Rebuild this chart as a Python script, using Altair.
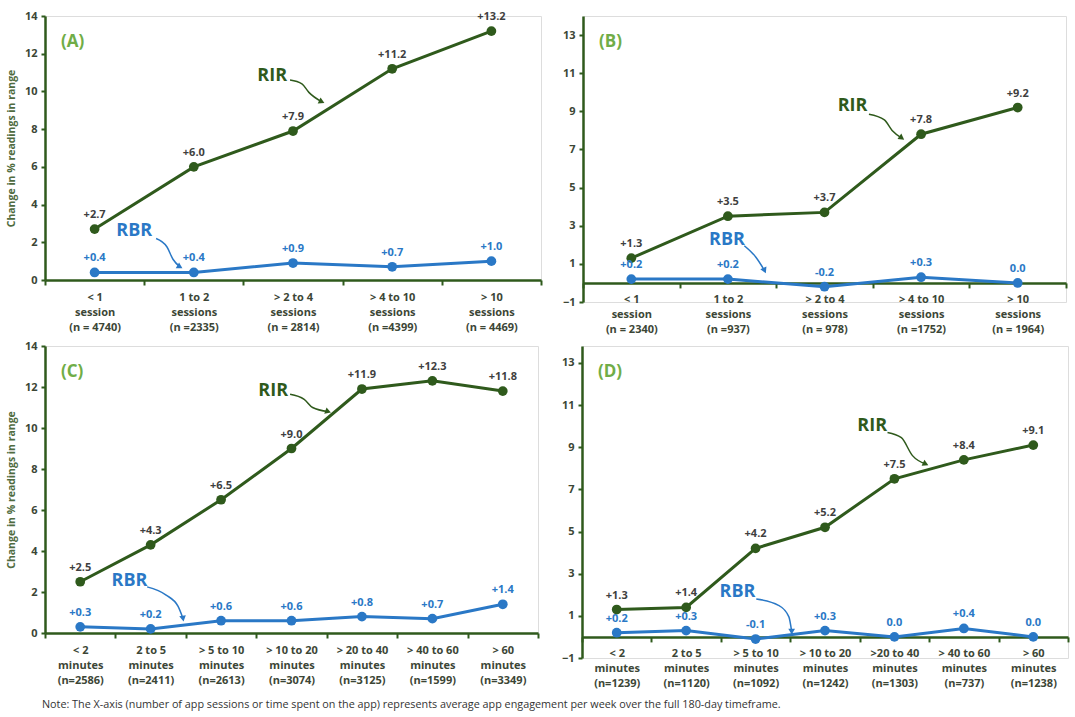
import altair as alt
import pandas as pd

# ---------------- data ----------------
cats_a = ["< 1\nsession\n(n = 4740)", "1 to 2\nsessions\n(n =2335)", "> 2 to 4\nsessions\n(n = 2814)",
          "> 4 to 10\nsessions\n(n =4399)", "> 10\nsessions\n(n = 4469)"]
rir_a = [2.7, 6.0, 7.9, 11.2, 13.2]
rbr_a = [0.4, 0.4, 0.9, 0.7, 1.0]

cats_b = ["< 1\nsession\n(n = 2340)", "1 to 2\nsessions\n(n =937)", "> 2 to 4\nsessions\n(n = 978)",
          "> 4 to 10\nsessions\n(n =1752)", "> 10\nsessions\n(n = 1964)"]
rir_b = [1.3, 3.5, 3.7, 7.8, 9.2]
rbr_b = [0.2, 0.2, -0.2, 0.3, 0.0]

cats_c = ["< 2\nminutes\n(n=2586)", "2 to 5\nminutes\n(n=2411)", "> 5 to 10\nminutes\n(n=2613)",
          "> 10 to 20\nminutes\n(n=3074)", "> 20 to 40\nminutes\n(n=3125)", "> 40 to 60\nminutes\n(n=1599)",
          "> 60\nminutes\n(n=3349)"]
rir_c = [2.5, 4.3, 6.5, 9.0, 11.9, 12.3, 11.8]
rbr_c = [0.3, 0.2, 0.6, 0.6, 0.8, 0.7, 1.4]

cats_d = ["< 2\nminutes\n(n=1239)", "2 to 5\nminutes\n(n=1120)", "> 5 to 10\nminutes\n(n=1092)",
          "> 10 to 20\nminutes\n(n=1242)", ">20 to 40\nminutes\n(n=1303)", "> 40 to 60\nminutes\n(n=737)",
          "> 60\nminutes\n(n=1238)"]
rir_d = [1.3, 1.4, 4.2, 5.2, 7.5, 8.4, 9.1]
rbr_d = [0.2, 0.3, -0.1, 0.3, 0.0, 0.4, 0.0]

# annotation callouts: (label, category index position, value)
callout_text = {
    "A": [("RIR", 1.79, 10.8), ("RBR", 0.40, 2.6)],
    "B": [("RIR", 2.29, 9.3), ("RBR", 0.99, 2.25)],
    "C": [("RIR", 2.74, 11.8), ("RBR", 0.70, 2.55)],
    "D": [("RIR", 3.68, 10.0), ("RBR", 1.74, 2.15)],
}
# curved arrow paths: series -> list of (index position, value)
callout_arrows = {
    "A": {"RIR": [(1.97, 10.6), (2.09, 10.4), (2.16, 9.95), (2.29, 9.45)],
          "RBR": [(0.62, 2.2), (0.73, 1.75), (0.79, 1.1), (0.86, 0.7)]},
    "B": {"RIR": [(2.46, 8.85), (2.62, 8.55), (2.70, 8.0), (2.80, 7.6)],
          "RBR": [(1.17, 1.95), (1.29, 1.35), (1.38, 0.65)]},
    "C": {"RIR": [(2.98, 11.65), (3.18, 11.4), (3.30, 11.0), (3.52, 10.8)],
          "RBR": [(0.95, 2.25), (1.22, 1.85), (1.39, 1.3), (1.46, 0.7)]},
    "D": {"RIR": [(3.90, 9.7), (4.10, 9.45), (4.26, 8.6), (4.45, 8.2)],
          "RBR": [(2.01, 1.8), (2.33, 1.5), (2.48, 0.95), (2.52, 0.25)]},
}
arrow_angles = {
    "A": {"RIR": 25, "RBR": 30},
    "B": {"RIR": 35, "RBR": 65},
    "C": {"RIR": 20, "RBR": 80},
    "D": {"RIR": 25, "RBR": 90},
}

note = ("Note: The X-axis (number of app sessions or time spent on the app) represents average app "
        "engagement per week over the full 180-day timeframe.")

# ---------------- style ----------------
GREEN = "#2F5A1C"
BLUE = "#2A78C6"
LETTER = "#70AD47"
AXLAB = "#3C4636"
VALLAB = "#3F3F3F"
FONT = "Open Sans"


def fmt(v):
    if v > 0:
        return f"+{v:.1f}"
    return f"{v:.1f}"


def panel(letter, cats, rir, rbr, ydom, yvals, width, height, ytitle):
    n = len(cats)
    rows = []
    for i, c in enumerate(cats):
        rows.append({"cat": c, "series": "RIR", "v": rir[i], "lab": fmt(rir[i])})
        rows.append({"cat": c, "series": "RBR", "v": rbr[i], "lab": fmt(rbr[i])})
    df = pd.DataFrame(rows)

    yscale = alt.Scale(domain=ydom, nice=False, zero=False)
    off = -height * (0 - ydom[0]) / (ydom[1] - ydom[0])

    xaxis = alt.Axis(labelExpr="split(datum.label, '\\n')", labelAngle=0, tickBand="extent",
                     domainColor=GREEN, domainWidth=2.5, tickColor=GREEN, tickWidth=2, tickSize=5,
                     labelFont=FONT, labelFontSize=11, labelFontWeight="bold", labelColor=AXLAB,
                     labelLineHeight=15, labelPadding=6, title=None, grid=False, offset=off,
                     labelOverlap=False)
    yaxis = alt.Axis(values=yvals, domainColor=GREEN, domainWidth=2.5, tickColor=GREEN, tickWidth=2,
                     tickSize=4, labelFont=FONT, labelFontSize=11, labelFontWeight="bold",
                     labelColor=AXLAB, labelPadding=4, grid=False, labelOverlap=False,
                     title=ytitle if ytitle else None, titleFont=FONT, titleFontSize=10.5,
                     titleFontWeight="bold", titleColor="#4F6B40", titlePadding=8)

    x = alt.X("cat:N", sort=cats, scale=alt.Scale(type="band", paddingInner=0, paddingOuter=0),
              axis=xaxis, bandPosition=0.5)
    y = alt.Y("v:Q", scale=yscale, axis=yaxis)

    base = alt.Chart(df)
    layers = []
    for s, col, lcol in [("RIR", GREEN, VALLAB), ("RBR", BLUE, BLUE)]:
        sub = base.transform_filter(alt.datum.series == s)
        layers.append(sub.mark_line(color=col, strokeWidth=3).encode(x=x, y=y))
        layers.append(sub.mark_circle(color=col, size=95, opacity=1).encode(x=x, y=y))
        layers.append(sub.mark_text(color=lcol, dy=-14, font=FONT, fontSize=11, fontWeight="bold")
                      .encode(x=x, y=y, text="lab:N"))
    series_layer = alt.layer(*layers)

    # annotations (quantitative position scale aligned with category centres)
    xq = alt.Scale(domain=[-0.5, n - 0.5], nice=False, zero=False)
    cscale = alt.Scale(domain=["RIR", "RBR"], range=[GREEN, BLUE])
    trows = [{"s": t, "xi": xi, "v": v} for (t, xi, v) in callout_text[letter]]
    tdf = pd.DataFrame(trows)
    ann = alt.Chart(tdf).mark_text(font=FONT, fontSize=18, fontWeight="bold").encode(
        x=alt.X("xi:Q", scale=xq, axis=None),
        y=alt.Y("v:Q", scale=yscale, axis=yaxis),
        text="s:N",
        color=alt.Color("s:N", scale=cscale, legend=None))

    arows, hrows = [], []
    for s, pts in callout_arrows[letter].items():
        for k, (xi, v) in enumerate(pts):
            arows.append({"s": s, "k": k, "xi": xi, "v": v})
        hrows.append({"s": s, "xi": pts[-1][0], "v": pts[-1][1], "ang": arrow_angles[letter][s]})
    adf = pd.DataFrame(arows)
    hdf = pd.DataFrame(hrows)
    arr = alt.Chart(adf).mark_line(interpolate="monotone", strokeWidth=1.5).encode(
        x=alt.X("xi:Q", scale=xq, axis=None), y=alt.Y("v:Q", scale=yscale, axis=yaxis),
        detail="s:N", order="k:Q", color=alt.Color("s:N", scale=cscale, legend=None))
    heads = alt.Chart(hdf).mark_point(shape="triangle-right", filled=True, size=45, opacity=1).encode(
        x=alt.X("xi:Q", scale=xq, axis=None), y=alt.Y("v:Q", scale=yscale, axis=yaxis),
        angle=alt.Angle("ang:Q", scale=None),
        color=alt.Color("s:N", scale=cscale, legend=None))
    ann_layer = alt.layer(ann, arr, heads)

    lab = alt.Chart(pd.DataFrame({"t": [f"({letter})"]})).mark_text(
        font=FONT, fontSize=17, fontWeight="bold", color=LETTER, align="left").encode(
        x=alt.value(16), y=alt.value(26), text="t:N")

    return alt.layer(series_layer, ann_layer, lab).resolve_scale(x="independent") \
        .properties(width=width, height=height)


ytitle = "Change in % readings in range"
pa = panel("A", cats_a, rir_a, rbr_a, [0, 14], list(range(0, 15, 2)), 496, 264, ytitle)
pb = panel("B", cats_b, rir_b, rbr_b, [-1, 14], list(range(-1, 14, 2)), 483, 286, None)
pc = panel("C", cats_c, rir_c, rbr_c, [0, 14], list(range(0, 15, 2)), 493, 287, ytitle)
pd_ = panel("D", cats_d, rir_d, rbr_d, [-1, 13.8], list(range(-1, 14, 2)), 486, 312, None)

row1 = alt.hconcat(pa, pb, spacing=18)
row2 = alt.hconcat(pc, pd_, spacing=20)

chart = alt.vconcat(row1, row2, spacing=3).properties(
    title=alt.TitleParams(text=note, orient="bottom", anchor="start", font=FONT, fontSize=10.8,
                          fontWeight="normal", color="#333333", offset=10, dx=36),
    padding={"left": 5, "top": 9, "right": 0, "bottom": 4},
).configure_view(stroke=None, strokeWidth=0).configure(background="white")

chart.save("out.html", embed_options={"renderer": "svg", "actions": False})
